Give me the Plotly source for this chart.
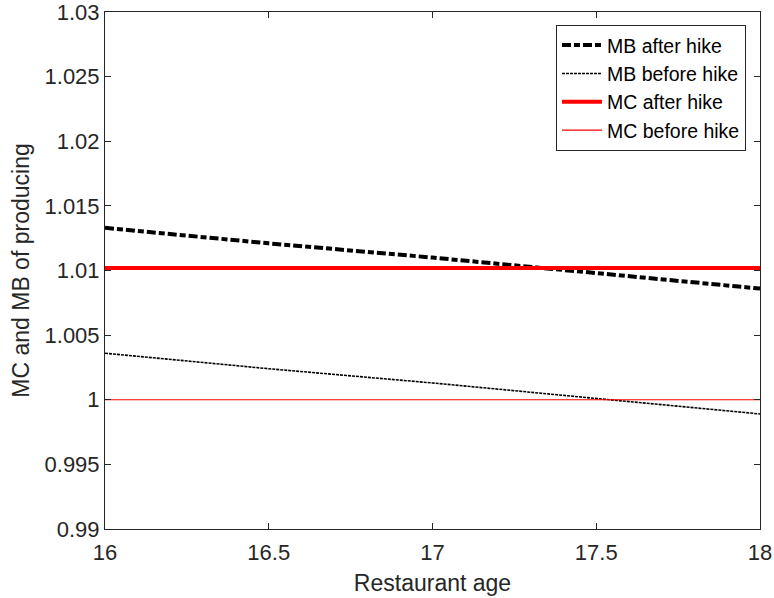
import plotly.graph_objects as go

age = [16, 16.5, 17, 17.5, 18]
mb_after = [1.0133, 1.0121, 1.0110, 1.0098, 1.0086]
mb_before = [1.0036, 1.0024, 1.0013, 1.0001, 0.9989]
mc_after = [1.0102, 1.0102, 1.0102, 1.0102, 1.0102]
mc_before = [1.0, 1.0, 1.0, 1.0, 1.0]

x_ticks = [16, 16.5, 17, 17.5, 18]
x_ticktext = ["16", "16.5", "17", "17.5", "18"]
y_ticks = [0.99, 0.995, 1.0, 1.005, 1.01, 1.015, 1.02, 1.025, 1.03]
y_ticktext = ["0.99", "0.995", "1", "1.005", "1.01", "1.015", "1.02", "1.025", "1.03"]

AX = "#262626"
FONT = "Liberation Sans, Arial, sans-serif"

fig = go.Figure()
fig.add_trace(go.Scatter(x=age, y=mb_after, mode="lines", name="MB after hike",
                         line=dict(color="black", width=4, dash="9px,3px,6px,3px")))
fig.add_trace(go.Scatter(x=age, y=mb_before, mode="lines", name="MB before hike",
                         line=dict(color="black", width=1.6, dash="3px,1px")))
fig.add_trace(go.Scatter(x=age, y=mc_after, mode="lines", name="MC after hike",
                         line=dict(color="#ff0000", width=4)))
fig.add_trace(go.Scatter(x=age, y=mc_before, mode="lines", name="MC before hike",
                         line=dict(color="#ff0000", width=1.2)))

fig.update_layout(
    width=774, height=598,
    margin=dict(l=105, r=14, t=12, b=69, autoexpand=False),
    paper_bgcolor="white", plot_bgcolor="white",
    font=dict(family=FONT, size=22, color=AX),
    showlegend=True,
    legend=dict(
        x=0.9786, y=0.975, xanchor="right", yanchor="top",
        bgcolor="white", bordercolor=AX, borderwidth=1,
        font=dict(family=FONT, size=19.5, color="black"),
        tracegroupgap=0, itemwidth=40,
    ),
)
fig.update_xaxes(
    range=[16, 18], tickmode="array", tickvals=x_ticks, ticktext=x_ticktext,
    ticks="inside", ticklen=6, tickwidth=1, tickcolor=AX,
    showline=True, linecolor=AX, linewidth=1, mirror="ticks",
    showgrid=False, zeroline=False, automargin=False,
    ticklabeloverflow="allow", ticklabelstandoff=4,
    tickfont=dict(family=FONT, size=22, color=AX),
    title=dict(text="Restaurant age", font=dict(family=FONT, size=23, color=AX), standoff=10),
)
fig.update_yaxes(
    range=[0.99, 1.03], tickmode="array", tickvals=y_ticks, ticktext=y_ticktext,
    ticks="inside", ticklen=6, tickwidth=1, tickcolor=AX,
    showline=True, linecolor=AX, linewidth=1, mirror="ticks",
    showgrid=False, zeroline=False, automargin=False,
    ticklabeloverflow="allow",
    tickfont=dict(family=FONT, size=22, color=AX),
    title=dict(text="MC and MB of producing", font=dict(family=FONT, size=23, color=AX), standoff=8),
)

fig.write_html("out.html", config={"displayModeBar": False},
               post_script="document.body.style.margin='0';document.body.style.overflow='hidden';")
